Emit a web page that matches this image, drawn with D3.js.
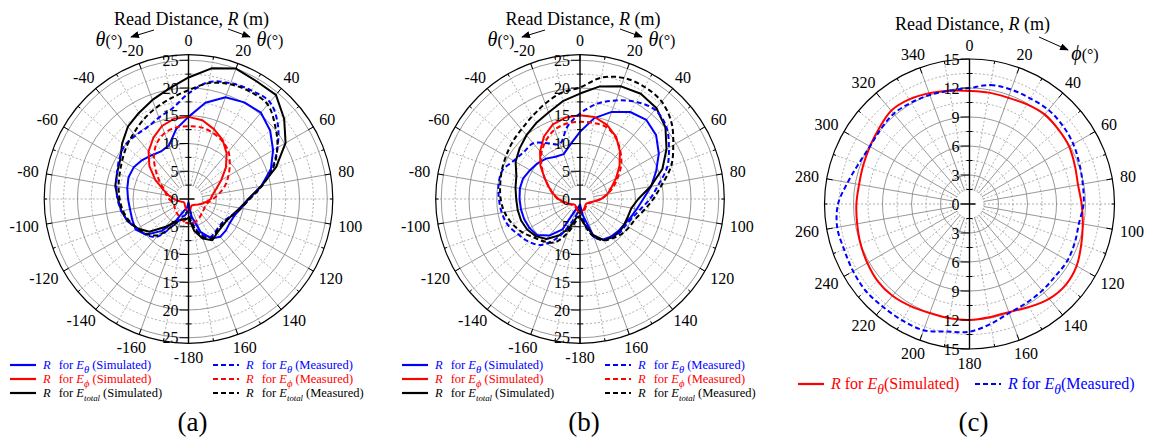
<!DOCTYPE html>
<html>
<head>
<meta charset="utf-8">
<script src="https://cdn.jsdelivr.net/npm/d3@7"></script>
<style>
  body { margin: 0; background: #fff; }
  svg, svg text { font-family: "Liberation Serif", "DejaVu Serif", "Times New Roman", "Tinos", "FreeSerif", serif; }
</style>
</head>
<body>
<div id="chart"></div>
<script>
// angle categories (degrees, clockwise from top)
const thetaDeg = [-180,-170,-160,-150,-140,-130,-120,-110,-100,-90,-80,-70,-60,-50,-40,-30,-20,-10,
                  0,10,20,30,40,50,60,70,80,90,100,110,120,130,140,150,160,170];
const phiDeg = [0,10,20,30,40,50,60,70,80,90,100,110,120,130,140,150,160,170,
                180,190,200,210,220,230,240,250,260,270,280,290,300,310,320,330,340,350];

// read distance R (m), panel (a)
const aEthetaSim  = [0.6,1.6,2.2,4.5,7.5,10.0,11.0,10.8,10.7,10.9,11.2,11.5,11.4,10.9,10.3,9.9,10.3,12.8,
                     14.8,17.6,19.5,20.1,20.3,19.2,17.6,15.8,13.3,10.8,9.6,8.8,8.6,8.8,8.9,8.2,6.3,3.2];
const aEphiSim    = [2.3,2.0,1.6,1.3,1.1,1.0,1.1,1.4,1.9,2.6,3.6,4.8,6.9,9.2,11.2,12.7,14.0,14.7,
                     14.8,14.4,13.4,12.3,10.7,8.8,6.8,5.3,4.4,4.0,3.2,2.5,2.0,1.6,1.4,1.3,1.4,1.9];
const aEtotSim    = [3.4,3.8,4.0,4.8,6.6,9.2,10.6,11.7,12.3,12.7,13.4,13.7,14.2,15.6,17.0,17.9,19.0,20.2,
                     21.9,23.9,25.0,24.5,24.5,22.5,20.2,16.8,13.3,10.8,9.4,8.4,7.9,7.8,8.0,8.6,7.6,5.8];
const aEthetaMeas = [1.5,2.8,3.5,5.5,8.9,10.0,10.7,11.6,12.3,12.8,13.2,13.7,14.4,15.0,14.9,14.9,15.6,16.6,
                     19.0,21.4,22.2,22.6,22.8,21.0,18.5,16.0,13.3,11.0,9.5,8.4,7.6,7.4,7.6,7.9,6.8,4.5];
const aEphiMeas   = [4.4,4.2,3.8,3.5,3.3,3.1,2.9,2.8,3.0,3.5,4.0,4.6,5.9,7.6,9.7,11.5,12.6,13.1,
                     13.1,13.1,12.7,12.1,11.2,9.7,8.3,7.0,5.6,4.4,3.6,3.3,3.3,3.4,3.6,3.9,4.2,4.4];
const aEtotMeas   = [3.2,3.6,4.0,5.5,8.5,9.8,10.6,11.4,12.0,12.4,12.8,13.2,13.8,14.6,15.4,16.4,17.4,18.4,
                     19.6,21.2,22.0,22.3,22.2,20.4,18.5,16.2,13.4,11.0,9.6,8.5,7.8,7.6,7.8,8.2,7.2,5.0];

// panel (b)
const bEthetaSim  = [1.0,1.5,1.8,6.3,8.6,10.1,10.5,10.7,10.8,10.9,11.0,10.9,10.4,10.0,9.5,8.8,8.6,10.0,
                     12.1,14.8,16.7,18.1,18.6,17.9,16.4,14.6,13.0,11.4,10.4,9.7,9.2,9.0,8.8,8.4,7.3,3.0];
const bEphiSim    = [2.3,2.0,1.7,1.5,1.4,1.5,1.8,2.3,3.0,3.9,4.8,5.9,7.3,9.3,11.2,13.0,14.3,14.9,
                     15.1,15.0,14.2,13.0,11.2,9.3,7.5,6.0,5.0,3.8,2.5,1.8,1.5,1.4,1.5,1.7,2.0,2.2];
const bEtotSim    = [3.3,3.3,5.5,7.6,9.4,10.4,11.0,11.3,11.4,11.5,11.8,12.2,13.4,14.2,15.0,15.8,16.6,17.9,
                     19.0,20.6,21.6,21.9,21.4,20.1,18.0,15.8,12.9,10.5,9.4,9.2,9.2,9.3,9.0,8.6,6.9,4.6];
const bEthetaMeas = [1.5,2.5,4.5,8.0,10.8,12.0,12.8,13.8,14.3,14.6,14.9,14.9,13.8,13.2,13.1,11.6,10.6,13.2,
                     15.4,17.4,18.9,20.2,21.0,20.3,18.5,16.7,14.3,12.6,11.0,10.0,9.5,9.4,9.0,8.5,7.2,4.0];
const bEphiMeas   = [2.5,2.2,1.9,1.7,1.6,1.7,2.0,2.5,3.2,4.0,4.9,5.9,7.3,9.0,10.8,12.2,13.3,13.8,
                     13.9,13.9,13.8,12.8,11.3,9.7,7.9,6.4,5.0,3.8,2.6,2.0,1.7,1.6,1.7,1.9,2.2,2.4];
const bEtotMeas   = [3.0,4.0,6.5,9.0,10.0,10.8,12.0,13.0,13.8,14.3,14.6,15.0,15.4,15.9,16.4,17.2,18.3,19.4,
                     20.1,22.2,23.2,23.3,22.9,21.5,19.4,17.5,15.0,13.2,11.7,10.6,10.2,9.8,9.2,8.6,7.2,4.8];

// panel (c)
const cEthetaSim  = [11.7,11.7,11.7,11.9,12.1,12.0,11.9,11.6,11.4,11.6,11.9,12.3,12.8,13.0,12.8,12.3,11.9,11.9,
                     12.0,12.0,12.0,12.2,12.4,12.4,12.2,12.0,11.8,11.7,11.6,11.7,11.9,12.2,12.6,12.5,12.2,11.9];
const cEthetaMeas = [12.0,12.5,12.6,12.6,12.7,12.6,12.4,12.1,11.9,11.8,11.5,11.6,11.7,11.6,11.7,11.8,12.0,12.6,
                     13.2,13.4,13.9,13.9,13.9,14.0,13.9,13.8,13.9,13.6,12.8,12.2,11.9,12.0,12.2,12.1,12.0,11.9];

// tick labels
const thetaTickLabels = ["0","20","40","60","80","100","120","140","160","-180","-160","-140","-120","-100","-80","-60","-40","-20"];
const phiTickLabels = ["0","20","40","60","80","100","120","140","160","180","200","220","240","260","280","300","320","340"];
const radTicksAB = [5, 10, 15, 20, 25];
const radTicksC = [3, 6, 9, 12, 15];

const W = 1159, H = 441;
const svg = d3.select("#chart").append("svg").attr("width", W).attr("height", H)
    .attr("font-family", "'Liberation Serif', 'DejaVu Serif', serif");

svg.append("defs").append("marker")
    .attr("id", "arr").attr("viewBox", "0 0 10 8").attr("refX", 9).attr("refY", 4)
    .attr("markerWidth", 9).attr("markerHeight", 7).attr("orient", "auto")
    .append("path").attr("d", "M0,0 L10,4 L0,8 z").attr("fill", "#000");

const BLUE = "#0000ff", RED = "#ff0000", BLACK = "#000";

function polarPanel(cfg) {
    const g = svg.append("g").attr("transform", `translate(${cfg.cx},${cfg.cy})`);
    const r = d3.scaleLinear().domain([0, cfg.rMax]).range([0, cfg.R]);
    const step = cfg.ticks[0];
    const inner = r(step / 2);

    // grid circles
    const minor = d3.range(step / 2, cfg.ticks[cfg.ticks.length - 1], step);
    g.selectAll(".minc").data(minor).enter().append("circle")
        .attr("r", d => r(d)).attr("fill", "none")
        .attr("stroke", "#999").attr("stroke-width", 0.8).attr("stroke-dasharray", "2,2");
    g.selectAll(".majc").data(cfg.ticks.filter(t => t < cfg.rMax)).enter().append("circle")
        .attr("r", d => r(d)).attr("fill", "none")
        .attr("stroke", "#8c8c8c").attr("stroke-width", 0.9);

    // spokes
    const spokes = d3.range(10, 360, 10).filter(a => a !== 180);
    g.selectAll(".spoke").data(spokes).enter().append("line")
        .attr("x1", a => inner * Math.sin(a * Math.PI / 180))
        .attr("y1", a => -inner * Math.cos(a * Math.PI / 180))
        .attr("x2", a => cfg.R * Math.sin(a * Math.PI / 180))
        .attr("y2", a => -cfg.R * Math.cos(a * Math.PI / 180))
        .attr("stroke", a => a % 20 === 0 ? "#8c8c8c" : "#999")
        .attr("stroke-width", a => a % 20 === 0 ? 0.9 : 0.8)
        .attr("stroke-dasharray", a => a % 20 === 0 ? null : "2,2");

    // outer ring + ticks
    g.append("circle").attr("r", cfg.R).attr("fill", "none").attr("stroke", "#000").attr("stroke-width", 1.2);
    g.selectAll(".otick").data(d3.range(0, 360, 10)).enter().append("line")
        .attr("x1", a => cfg.R * Math.sin(a * Math.PI / 180))
        .attr("y1", a => -cfg.R * Math.cos(a * Math.PI / 180))
        .attr("x2", a => (cfg.R - (a % 20 === 0 ? 6 : 3)) * Math.sin(a * Math.PI / 180))
        .attr("y2", a => -(cfg.R - (a % 20 === 0 ? 6 : 3)) * Math.cos(a * Math.PI / 180))
        .attr("stroke", "#000").attr("stroke-width", 1);

    // curves
    cfg.series.forEach(s => {
        const pts = s.values.map((v, i) => ({ a: cfg.angles[i], v: v }));
        const line = d3.lineRadial()
            .angle(d => d.a * Math.PI / 180)
            .radius(d => r(d.v))
            .curve(s.smooth ? d3.curveCatmullRomClosed.alpha(0.5) : d3.curveLinearClosed);
        g.append("path").attr("d", line(pts)).attr("fill", "none")
            .attr("stroke", s.color).attr("stroke-width", 2)
            .attr("stroke-linejoin", "round")
            .attr("stroke-dasharray", s.dashed ? "5,3" : null);
    });

    // radial axis
    g.append("line").attr("x1", 0).attr("x2", 0).attr("y1", -cfg.R).attr("y2", cfg.R)
        .attr("stroke", "#000").attr("stroke-width", 1.4);
    const allTicks = [0].concat(cfg.ticks);
    [-1, 1].forEach(dir => {
        g.selectAll(null).data(minor).enter().append("line")
            .attr("x1", -3).attr("x2", 3)
            .attr("y1", d => dir * r(d)).attr("y2", d => dir * r(d))
            .attr("stroke", "#000").attr("stroke-width", 1);
        g.selectAll(null).data(allTicks).enter().append("line")
            .attr("x1", -9).attr("x2", d => d === 0 ? 6 : 0)
            .attr("y1", d => dir * r(d)).attr("y2", d => dir * r(d))
            .attr("stroke", "#000").attr("stroke-width", 1);
        g.selectAll(null).data(dir < 0 ? allTicks : cfg.ticks).enter().append("text")
            .attr("x", -10).attr("y", d => dir * r(d)).attr("dy", "0.35em")
            .attr("text-anchor", "end").style("font-size", "16px")
            .text(d => d);
    });

    // angular labels
    const lr = cfg.R + 8;
    cfg.angleLabels.forEach((lab, i) => {
        const a = i * 20 * Math.PI / 180;
        const t = g.append("text").attr("text-anchor", "middle").attr("dy", "0.35em")
            .style("font-size", "16px").text(lab);
        const w = t.node().getComputedTextLength();
        const x = lr * Math.sin(a) + Math.sin(a) * w / 2;
        const y = -lr * Math.cos(a) - Math.cos(a) * 6;
        t.attr("x", x).attr("y", y);
    });

    // title
    const title = svg.append("text").attr("x", cfg.cx + 3).attr("y", cfg.cy - 174)
        .attr("text-anchor", "middle").style("font-size", "18px");
    title.append("tspan").text("Read Distance, ");
    title.append("tspan").style("font-style", "italic").text("R");
    title.append("tspan").text(" (m)");

    // panel letter
    svg.append("text").attr("x", cfg.cx + 4).attr("y", 431).attr("text-anchor", "middle")
        .style("font-size", "27px").text(cfg.letter);
    return g;
}

function angleUnit(x, y, sym) {
    const t = svg.append("text").attr("x", x).attr("y", y).attr("text-anchor", "middle");
    t.append("tspan").style("font-style", "italic").style("font-size", "20px").text(sym);
    t.append("tspan").style("font-size", "16px").text("(°)");
}

function arrow(x1, y1, x2, y2) {
    svg.append("line").attr("x1", x1).attr("y1", y1).attr("x2", x2).attr("y2", y2)
        .attr("stroke", "#000").attr("stroke-width", 1).attr("marker-end", "url(#arr)");
}

function legendRow(x, y, color, dashed, sub, note, fs, tight) {
    svg.append("line").attr("x1", x).attr("x2", x + 26).attr("y1", y).attr("y2", y)
        .attr("stroke", color).attr("stroke-width", 2.2)
        .attr("stroke-dasharray", dashed ? "5,3" : null);
    const t = svg.append("text").attr("x", x + 33).attr("y", y + fs * 0.33)
        .attr("fill", color).style("font-size", fs + "px");
    t.append("tspan").style("font-style", "italic").text("R");
    t.append("tspan").attr("dx", tight ? 4 : 8).text("for ");
    t.append("tspan").style("font-style", "italic").text("E");
    const small = sub.length > 1;
    t.append("tspan").style("font-style", "italic")
        .style("font-size", (small ? fs * 0.7 : fs * 0.85) + "px")
        .attr("dy", fs * 0.3).text(sub);
    t.append("tspan").attr("dy", -fs * 0.3).attr("dx", tight ? 0 : 3)
        .attr("fill", small ? "#000" : color).text(note);
}

const seriesAB = (es, ps, ts, em, pm, tm) => [
    { values: es, color: BLUE, dashed: false },
    { values: ps, color: RED, dashed: false },
    { values: ts, color: BLACK, dashed: false },
    { values: em, color: BLUE, dashed: true, smooth: true },
    { values: pm, color: RED, dashed: true, smooth: true },
    { values: tm, color: BLACK, dashed: true, smooth: true }
];

polarPanel({ cx: 188.5, cy: 199, R: 144.3, rMax: 26, ticks: radTicksAB, angles: thetaDeg,
    angleLabels: thetaTickLabels, letter: "(a)",
    series: seriesAB(aEthetaSim, aEphiSim, aEtotSim, aEthetaMeas, aEphiMeas, aEtotMeas) });
polarPanel({ cx: 580, cy: 199, R: 144.3, rMax: 26, ticks: radTicksAB, angles: thetaDeg,
    angleLabels: thetaTickLabels, letter: "(b)",
    series: seriesAB(bEthetaSim, bEphiSim, bEtotSim, bEthetaMeas, bEphiMeas, bEtotMeas) });
polarPanel({ cx: 969.5, cy: 204, R: 145, rMax: 15, ticks: radTicksC, angles: phiDeg,
    angleLabels: phiTickLabels, letter: "(c)",
    series: [
        { values: cEthetaSim, color: RED, dashed: false, smooth: true },
        { values: cEthetaMeas, color: BLUE, dashed: true, smooth: true }
    ] });

// angle direction hints
angleUnit(109, 46, "θ"); arrow(154, 30, 131, 37);
angleUnit(270, 46, "θ"); arrow(228, 29, 250, 37);
angleUnit(501, 46, "θ"); arrow(545, 30, 522, 37);
angleUnit(662, 46, "θ"); arrow(620, 29, 642, 37);
angleUnit(1085, 60, "ϕ"); arrow(1039, 37, 1068, 50);

// legends
const legendNotesSim = "(Simulated)", legendNotesMeas = "(Measured)";
[10, 402].forEach(x0 => {
    legendRow(x0, 365, BLUE, false, "θ", legendNotesSim, 12.5);
    legendRow(x0, 379, RED, false, "ϕ", legendNotesSim, 12.5);
    legendRow(x0, 393, BLACK, false, "total", legendNotesSim, 12.5);
    legendRow(x0 + 203, 365, BLUE, true, "θ", legendNotesMeas, 12.5);
    legendRow(x0 + 203, 379, RED, true, "ϕ", legendNotesMeas, 12.5);
    legendRow(x0 + 203, 393, BLACK, true, "total", legendNotesMeas, 12.5);
});
legendRow(798, 384, RED, false, "θ", legendNotesSim, 16, true);
legendRow(975, 384, BLUE, true, "θ", legendNotesMeas, 16, true);
</script>
</body>
</html>
